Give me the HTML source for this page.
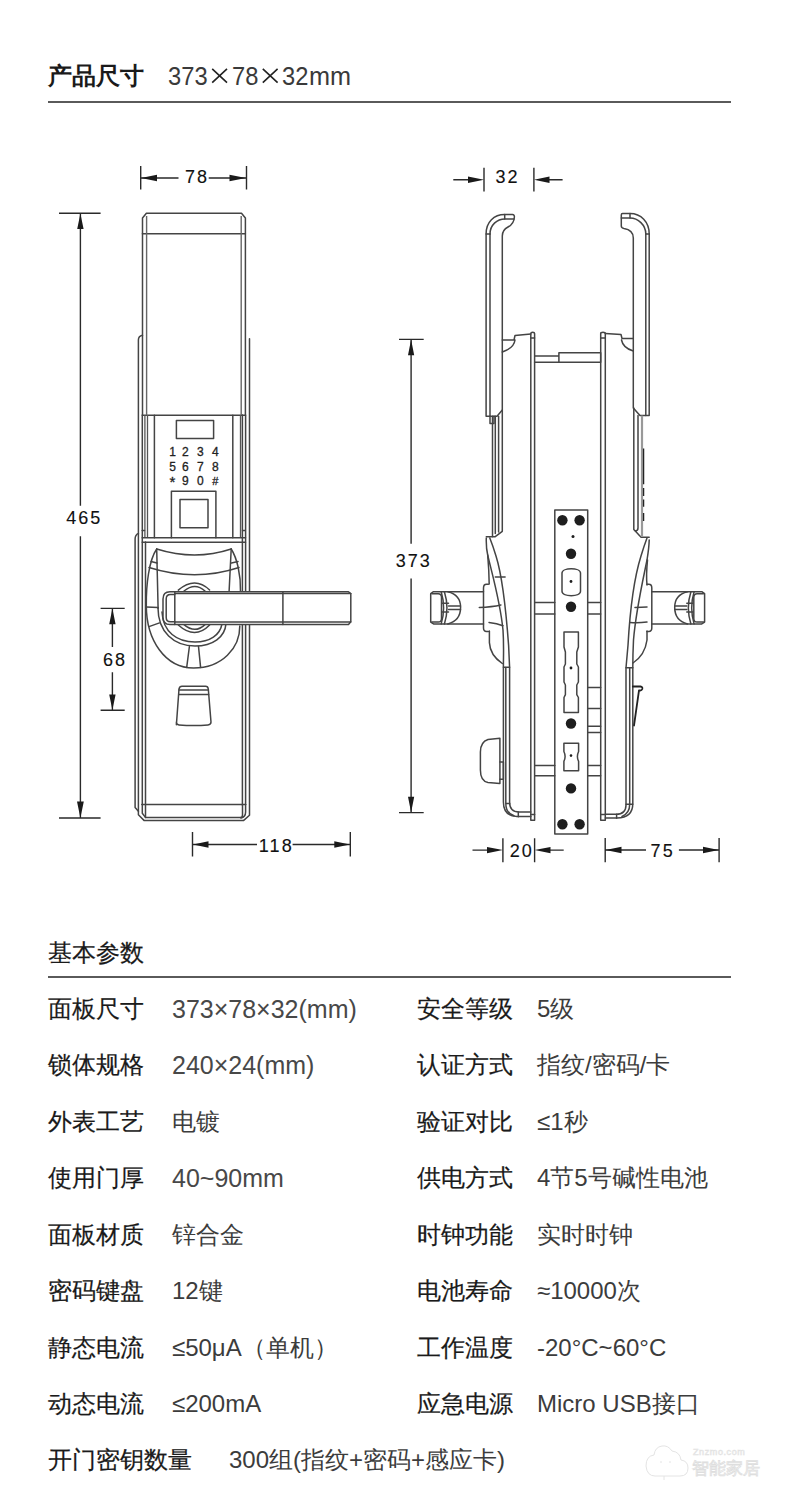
<!DOCTYPE html>
<html><head><meta charset="utf-8">
<style>
html,body{margin:0;padding:0;background:#fff;}
body{width:790px;height:1509px;position:relative;overflow:hidden;font-family:"Liberation Sans",sans-serif;color:#222;}
.t{position:absolute;white-space:nowrap;line-height:1;}
.h1{font-weight:bold;font-size:24px;color:#1a1a1a;}
.hv{font-size:25.5px;color:#3a3a3a;transform:scaleX(0.93);transform-origin:0 0;}
.rule{position:absolute;left:48px;width:683px;height:2px;background:#5a5a5a;}
.lab{font-size:24px;color:#1a1a1a;-webkit-text-stroke:0.2px #1a1a1a;}
.val{font-size:24px;color:#3c3c3c;}
.n{font-size:25px;position:relative;top:-0.5px;color:#484848;}
svg{position:absolute;left:0;top:0;}
.o{fill:none;stroke:#444;stroke-width:1.5;stroke-linejoin:round;stroke-linecap:round;}
.g{fill:none;stroke:#666;stroke-width:1.4;}
.d{fill:none;stroke:#2a2a2a;stroke-width:1.4;}
.ah{fill:#1a1a1a;stroke:none;}
.dt{font-family:"Liberation Sans",sans-serif;font-size:18px;fill:#111;stroke:#111;stroke-width:0.12px;letter-spacing:2.1px;}
.kp{font-family:"Liberation Sans",sans-serif;font-size:12px;fill:#222;stroke:#222;stroke-width:0.3px;}
</style></head><body>
<div class="t h1" style="left:48px;top:64px;">产品尺寸</div>
<div class="t hv" style="left:168px;top:64px;">373</div><div class="t hv" style="left:232px;top:64px;">78</div><div class="t hv" style="left:282px;top:64px;">32</div><div class="t hv" style="left:309px;top:64px;transform:scaleX(0.99)">mm</div>
<svg width="790" height="100" style="position:absolute;left:0;top:0"><path d="M212.2 68.8L227 82.7M227 68.8L212.2 82.7M262.8 68.8L277.6 82.7M277.6 68.8L262.8 82.7" stroke="#222" stroke-width="1.6" fill="none"/></svg>
<div class="rule" style="top:100.5px;"></div>

<svg width="790" height="900" viewBox="0 0 790 900">
<!-- ============ LEFT FRONT VIEW ============ -->
<!-- dim 78 -->
<g class="d">
<path d="M140.7 166V189.5M246.5 166V189.5M141 178H178.5M208.7 178H246"/>
</g>
<path class="ah" d="M141 178L157 174.8L157 181.2Z M246 178L229.5 174.8L229.5 181.2Z"/>
<text class="dt" x="197" y="182.5" text-anchor="middle">78</text>
<!-- dim 465 -->
<g class="d"><path d="M59 213.2H100.6M59 818H100.6M80.4 213.5V505.8M80.4 536.2V818"/></g>
<path class="ah" d="M80.4 213.5L77.2 229L83.6 229Z M80.4 818L77 801.6L83.8 801.6Z"/>
<text class="dt" x="84.3" y="524" text-anchor="middle">465</text>
<!-- dim 68 -->
<g class="d"><path d="M100.6 608.4H124.7M100.6 710.3H124.7M112.4 608.4V647M112.4 672.3V710.3"/></g>
<path class="ah" d="M112.4 608.6L109.2 624.2L115.6 624.2Z M112.4 710L109.2 694.5L115.6 694.5Z"/>
<text class="dt" x="115" y="665.8" text-anchor="middle">68</text>
<!-- dim 118 -->
<g class="d"><path d="M192.5 832V856.6M350.3 832V856.6M192.5 844.5H257M292.6 844.5H350.3"/></g>
<path class="ah" d="M193 844.5L208.5 841.3L208.5 847.7Z M350 844.5L334.3 841.3L334.3 847.7Z"/>
<text class="dt" x="276.3" y="852" text-anchor="middle">118</text>

<!-- cover -->
<g class="o">
<path d="M142.5 415.3V218L146.4 213.2H241.5L245.4 218V415.3"/>
<path d="M142.4 233.7H245.4M142.4 415.3H245.4"/>
</g>
<g class="g"><path d="M146.6 216V415.3M241.2 216V415.3"/></g>
<!-- plate behind -->
<g class="o">
<path d="M142.5 335.2Q138.4 336 138.4 340V814.8L144 820.4H243.7L249.5 815.3V338.7"/>
<path d="M142.3 415V813.3L145.6 817.6H240Q242.5 817.6 242.5 815V805"/>
<path d="M245.6 415V812Q245.6 817 241 818"/>
<path d="M138.4 533.4Q135.1 535 135.1 539V807.5L138.4 811.3"/>
</g>
<g class="o"><path d="M242.4 415V805M145.5 542V817.6"/></g>
<g class="g" style="stroke:#555;stroke-width:1.3"><path d="M144.9 415V537.7M147.5 415V537.7M240.5 415V537.7"/></g>
<!-- keypad panel -->
<g class="o">
<path d="M154.4 415.3V537.7M232.8 415.3V537.7"/>
<path d="M142.2 537.7H245.5M142.2 542.3H245.5M142.2 530.4H144.5M242.5 530.4H245"/>
<rect x="176.4" y="420.6" width="37.2" height="17.8"/>
<path d="M171.4 537.7V491.2H215.9V537.7"/>
<rect x="180" y="499.5" width="28" height="28.3"/>
<path d="M141.8 804.6H245.8"/>
</g>
<text class="kp" x="172.5" y="456.3" text-anchor="middle">1</text>
<text class="kp" x="185.3" y="456.3" text-anchor="middle">2</text>
<text class="kp" x="200.3" y="456.3" text-anchor="middle">3</text>
<text class="kp" x="215.4" y="456.3" text-anchor="middle">4</text>
<text class="kp" x="172.5" y="470.6" text-anchor="middle">5</text>
<text class="kp" x="185.3" y="470.6" text-anchor="middle">6</text>
<text class="kp" x="200.3" y="470.6" text-anchor="middle">7</text>
<text class="kp" x="215.4" y="470.6" text-anchor="middle">8</text>
<text class="kp" x="172.5" y="486.5" text-anchor="middle" style="font-size:15px">*</text>
<text class="kp" x="185.3" y="484.6" text-anchor="middle">9</text>
<text class="kp" x="200.3" y="484.6" text-anchor="middle">0</text>
<text class="kp" x="215.4" y="484.6" text-anchor="middle" style="font-size:11px">#</text>

<!-- rose -->
<g class="o">
<path d="M156.7 549Q195 561 231.2 549"/>
<path d="M156.7 549C149 560 146 585 146.3 606C146.5 640 165 668 193.6 668C222 668 240 648 239.8 626"/>
<path d="M231.2 549C237 558 241 575 240.5 592"/>
<path d="M149 567.5Q195 582 239 567.5"/>
<path d="M151 561.6L157 563M231.5 563L238 561.6"/>
<path d="M156.7 549L158.1 608.2M231.2 549L229.1 591.5"/>
<path d="M146.3 606.9L158 607.5M149.7 626.4L159.5 622.9"/>
<path d="M158 608C158 632 174 646 195 646C213 646 225 637 226 623.6"/>
<path d="M162 612C163 632 177 642 195 642C210 642 220 635 222 624"/>
<path d="M189.4 646.5L186.7 667.4M198.5 646.5L200.6 667.4"/>
<path d="M178.3 590.1Q195 576 209.6 590"/>
<path d="M178.3 625Q195 640 209.6 625"/>
<path d="M184 591Q195 582 205 591M184 624.6Q195 634 205 624.6"/>
</g>
<!-- lever -->
<g class="o">
<path style="fill:#fff" d="M350.8 593.5V621.8L348.5 624.6H170Q163 624.6 163 617V599Q163 591.8 170 591.8H348.5L350.8 593.5Z"/>
<path d="M174.8 593.6H350.8M174.8 621.9H350.8M174.8 591.8V624.6M282.9 591.8V624.6"/>
<path d="M174.8 594.6H170.5Q166.2 594.6 166.2 599V617.5Q166.2 621.8 170.5 621.8H174.8"/>
</g>
<!-- keyhole cover -->
<g class="o">
<path d="M176.4 724.7L179 689Q179.5 686.2 182 686.2H205.5Q208 686.2 208.3 689L211 722Q211 724.7 208 724.9Q194 726 179 724.9Q176.4 724.7 176.4 722Z"/>
<path d="M179 690H208.3M178.8 694.6H208.6"/>
</g>

<!-- ============ RIGHT SIDE VIEW ============ -->
<!-- dim 32 -->
<g class="d"><path d="M484 167.7V191.6M533.9 167.7V191.6M453.3 179.8H470M549 179.8H562.6"/></g>
<path class="ah" d="M484 179.8L468 176.6L468 183Z M534 179.8L549.5 176.6L549.5 183Z"/>
<text class="dt" x="507.5" y="182.8" text-anchor="middle">32</text>
<!-- dim 373 -->
<g class="d"><path d="M399 339.4H423.7M399 812.6H423.7M411.1 339.6V543.7M411.1 578.6V812.6"/></g>
<path class="ah" d="M411.1 339.6L408 355.3L414.2 355.3Z M411.1 812.4L408 796.7L414.2 796.7Z"/>
<text class="dt" x="413.8" y="566.8" text-anchor="middle">373</text>
<!-- dim 20 -->
<g class="d"><path d="M502.9 838.2V862.3M534.6 838.2V862.3M472.5 850.1H488M549 850.1H563.7"/></g>
<path class="ah" d="M502.9 850.1L487 846.9L487 853.3Z M534.6 850.1L550.5 846.9L550.5 853.3Z"/>
<text class="dt" x="521.8" y="857.3" text-anchor="middle">20</text>
<!-- dim 75 -->
<g class="d"><path d="M605.2 838V862.2M719.1 838V862.2M605.2 850H646M678.9 850H719"/></g>
<path class="ah" d="M605.5 850L621.5 846.8L621.5 853.2Z M718.8 850L703 846.8L703 853.2Z"/>
<text class="dt" x="662.7" y="857.4" text-anchor="middle">75</text>

<!-- left cover side -->
<g class="o">
<path d="M486.1 416.2V234C486.1 222 494 214.6 504.7 214.6H512.5Q514.5 214.6 514.4 217Q514 224 508 227Q502.3 230 502.3 236V410L497 416.2H486.1"/>
<path d="M490 234C490 225 497 219 505 219H514"/>
<path d="M504.7 214.6V219M486.1 234H490"/>
</g>
<g class="o"><path d="M490 234V416.2"/></g>
<g class="o">
<path d="M490 416.2V423.4H494V416.2"/>
<path d="M492.5 416.2V537M495.3 416.2V533.5M498.6 416.2V532M502.3 410V531.3L494.9 536.8H486.3"/>
</g>
<!-- right cover side -->
<g class="o">
<path d="M649.2 415.6V234C649.2 222 641 213.5 630 213.5H622.5Q621.3 213.5 621.3 215V226Q621.3 228 624 228.5Q633.3 230 633.3 238V408L640 415.6H649.2"/>
<path d="M645.8 234C645.8 225 638 218 630 218H621.3"/>
<path d="M630 213.5V218M645.8 234H649.2"/>
</g>
<g class="o"><path d="M645.8 234V415.6"/></g>
<g class="o"><path d="M633.8 408V529.5L641.1 537.3H649.2M638 415.6V528Q638 531 635 531"/></g>
<path d="M642 415.6V537" style="stroke:#999;stroke-width:2.2;fill:none"/>
<path d="M643.6 448.5V484.3M643.6 487.9V496M643.6 499.5V506.7M643.6 513V521" style="stroke:#222;stroke-width:1.3;fill:none"/>
<!-- door plates -->
<g class="o">
<path d="M530.8 820.3V333.5Q530.8 332.3 532.7 332.3Q534.6 332.3 534.6 333.5V820.3H530.8"/>
<path d="M600.7 820.3V333.5Q600.7 332.3 603 332.3Q605.3 332.3 605.3 333.5V820.3H600.7"/>
<path d="M530.8 338H534.6M600.7 338H605.3"/>
<!-- escutcheon lips top -->
<path d="M502.3 340H514L515 335.5L530.8 334M515 340Q514 348 502.3 352"/>
<path d="M605.3 333.5L621 334.5L622 338.5H633.3M621.5 340Q623 348 633.3 351"/>
<!-- spindle -->
<path d="M534.6 356H558.9V362.3H534.6M558.9 352.8H600.7V362.3H558.9Z"/>
</g>
<!-- mortise -->
<g class="o">
<rect x="554.8" y="510.1" width="32.9" height="323.8"/>
<path d="M535 602.5H554.8M535 614H554.8M587.7 602.5H600.7M587.7 614H600.7"/>
<path d="M535 765.6H554.8M535 775.7H554.8M587.7 765.6H600.7M587.7 775.7H600.7"/>
<path d="M587.7 687.6H600.7M587.7 708.6H600.7M587.7 726.2H600.7M587.7 732.5H600.7"/>
<path d="M562 573C562 567.4 580.5 567.4 580.5 573V591.3C580.5 597.2 562 597.2 562 591.3Z"/>
<path d="M564 632H578.4V647L576.8 652V664L578.4 667V682L576.8 685V694.6L578.4 697.5V712.6H564V697.5L565.4 694.6V685L564 682V667L565.4 664V652L564 647Z"/>
<path d="M563.9 743.2H578.6V751.5Q576.2 756.5 578.6 761.4V770.7H563.9V761.4Q566.3 756.5 563.9 751.5Z"/>
</g>
<g fill="#1e1e1e">
<circle cx="562.4" cy="520.3" r="5.2"/><circle cx="579.6" cy="520.3" r="5.2"/>
<circle cx="573" cy="536.5" r="1.5"/>
<circle cx="571" cy="553.7" r="5.2"/>
<circle cx="571" cy="581.5" r="1.4"/>
<circle cx="571" cy="606.8" r="5.2"/>
<circle cx="571" cy="668" r="1.4"/>
<circle cx="571" cy="723.5" r="5.2"/>
<circle cx="571" cy="755.6" r="1.3"/>
<circle cx="571" cy="788.4" r="5.2"/>
<circle cx="562.4" cy="824.3" r="5.2"/><circle cx="579.6" cy="824.3" r="5.2"/>
</g>
<!-- left escutcheon -->
<g class="o">
<path d="M489.8 538Q493 546 496 556C502 575 506 610 508.6 645.3L509.6 667.6V802Q509.6 812 519 812H530.8"/>
<path d="M486.3 538Q486 548 487.7 555C491 570 500 600 503 630C504 645 503.4 655 503.4 667.3V802Q503.4 816 517 816.5H530.8"/>
<path d="M487.7 555Q489 570 489.2 584M489.4 631V642.6Q490 655 502.3 663.5"/>
<path d="M495.3 577.1H505.1M479.3 607.5Q492 607 500.9 605M489 622.4Q497 623 503 625.8"/>
<path d="M503.4 667.3H509.6"/>
<path d="M505.8 667.5V803.4Q505.8 813 514 815.8M505.8 803.4H509.6M518.3 812V816.8M530.8 814.5H534.6"/>
</g>
<!-- left handle -->
<g class="o" id="hdl">
<path d="M488.4 584.3H486.5Q483.5 584.3 483.5 588V628Q483.5 631.4 486.5 631.4H488.4"/>
<path d="M483.5 591.7H433.5L430.7 593.7V622.1L433.5 623.9H483.5"/>
<path d="M431.8 593.7H438.2Q441.5 593.7 441.5 597.5V618.5Q441.5 622.1 438.2 622.1H431.8"/>
<path d="M441.2 591.7Q446 607.8 441.2 623.9M444.4 591.7Q449.5 607.8 444.4 623.9"/>
<path d="M447.8 591.7C457.5 594 460.6 600 460.6 607.3C460.6 615 457.5 621.5 447.8 623.9"/>
<path d="M448.5 605.9H460.5M448.5 609.6H460.5M442.5 603.3H448.5M442.5 611.9H448.5"/>
</g>
<!-- thumb turn -->
<g class="o">
<path d="M499.9 738.2L488 739.5Q480.4 742 480.4 752V770Q480.4 781 488 782.5L499.9 783.4Z"/>
<path d="M499.9 761.9H503.4V779.3H499.9"/>
</g>
<!-- right escutcheon -->
<g class="o">
<path d="M647 538Q644 546 641 556C635 575 630 610 628 645.3L626 667.7V805Q626 814.3 616 814.3H605.3"/>
<path d="M649.2 540Q649 548 647 560C643 580 636 610 633.5 640C633 650 632.8 660 632.8 667.7V803.6Q632.8 818 617 818H605.3"/>
<path d="M647.5 560Q646 575 647 585M647 631V640Q645 655 633 663"/>
<path d="M626 667.7H632.8"/>
<path d="M629.7 667.7V804.2Q629.7 813 622 816.5M626 804.2H632.8M616.6 814.3V818.2M600.7 814.5H605.3"/>
<path style="stroke:#222;stroke-width:1.8" d="M632.8 686.5H640.5Q642.8 686.8 642.3 689Q641.5 691 639 690.3L634 725.5"/>
<path d="M635 607.5Q642 607 647 607M630 622.4Q638 623 647 622"/>
</g>
<!-- right handle -->
<use href="#hdl" transform="translate(1135.3 0) scale(-1 1)"/>
<!-- right clip below handle: upper marks -->
</svg>

<div class="t lab" style="left:48px;top:941px;">基本参数</div>
<div class="rule" style="top:975.5px;"></div>

<div class="t lab" style="left:48px;top:997px;">面板尺寸</div><div class="t val" style="left:172px;top:997px;"><span class="n">373×78×32(mm)</span></div>
<div class="t lab" style="left:417px;top:997px;">安全等级</div><div class="t val" style="left:537px;top:997px;">5级</div>
<div class="t lab" style="left:48px;top:1053px;">锁体规格</div><div class="t val" style="left:172px;top:1053px;"><span class="n">240×24(mm)</span></div>
<div class="t lab" style="left:417px;top:1053px;">认证方式</div><div class="t val" style="left:537px;top:1053px;">指纹/密码/卡</div>
<div class="t lab" style="left:48px;top:1110px;">外表工艺</div><div class="t val" style="left:172px;top:1110px;">电镀</div>
<div class="t lab" style="left:417px;top:1110px;">验证对比</div><div class="t val" style="left:537px;top:1110px;">≤1秒</div>
<div class="t lab" style="left:48px;top:1166px;">使用门厚</div><div class="t val" style="left:172px;top:1166px;"><span class="n">40~90mm</span></div>
<div class="t lab" style="left:417px;top:1166px;">供电方式</div><div class="t val" style="left:537px;top:1166px;">4节5号碱性电池</div>
<div class="t lab" style="left:48px;top:1223px;">面板材质</div><div class="t val" style="left:172px;top:1223px;">锌合金</div>
<div class="t lab" style="left:417px;top:1223px;">时钟功能</div><div class="t val" style="left:537px;top:1223px;">实时时钟</div>
<div class="t lab" style="left:48px;top:1279px;">密码键盘</div><div class="t val" style="left:172px;top:1279px;">12键</div>
<div class="t lab" style="left:417px;top:1279px;">电池寿命</div><div class="t val" style="left:537px;top:1279px;">≈10000次</div>
<div class="t lab" style="left:48px;top:1336px;">静态电流</div><div class="t val" style="left:172px;top:1336px;">≤50μA（单机）</div>
<div class="t lab" style="left:417px;top:1336px;">工作温度</div><div class="t val" style="left:537px;top:1336px;">-20°C~60°C</div>
<div class="t lab" style="left:48px;top:1392px;">动态电流</div><div class="t val" style="left:172px;top:1392px;">≤200mA</div>
<div class="t lab" style="left:417px;top:1392px;">应急电源</div><div class="t val" style="left:537px;top:1392px;">Micro USB接口</div>
<div class="t lab" style="left:48px;top:1448px;">开门密钥数量</div><div class="t val" style="left:229px;top:1448px;">300组(指纹+密码+感应卡)</div>
<svg width="790" height="1509" style="position:absolute;left:0;top:0">
<g fill="none" stroke="#e4e4e4" stroke-width="1">
<path d="M655 1476H680Q688 1476 688 1468Q688 1461 681 1460Q680 1452 672 1451Q668 1445 662 1446Q655 1447 654 1455Q646 1456 646 1466Q647 1476 655 1476Z"/>
<path d="M664 1476V1480M660 1462H662M669 1462H671"/>
</g>
<text x="693" y="1455" style="font-family:'Liberation Sans',sans-serif;font-size:9px;fill:#fff;stroke:#e2e2e2;stroke-width:0.6px;letter-spacing:0.6px">Znzmo.com</text>
<text x="692" y="1474" style="font-family:'Liberation Sans',sans-serif;font-size:17px;fill:#fff;stroke:#dedede;stroke-width:0.8px">智能家居</text>
</svg>
</body></html>
